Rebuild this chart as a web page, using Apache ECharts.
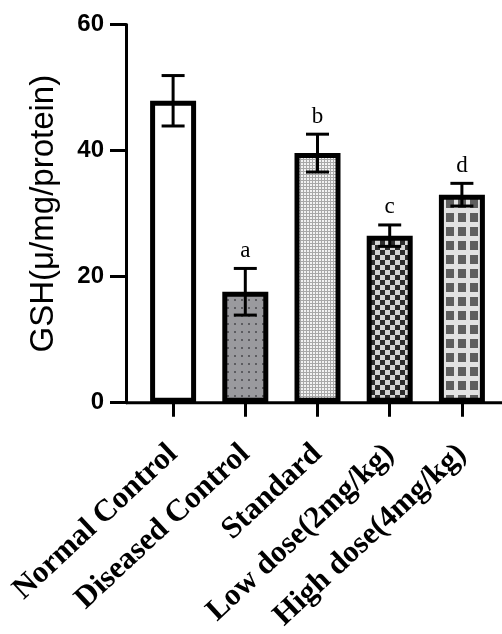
<!DOCTYPE html>
<html>
<head>
<meta charset="utf-8">
<script src="https://cdn.jsdelivr.net/npm/echarts@6/dist/echarts.min.js"></script>
<style>
  html, body { margin: 0; padding: 0; background: #fff; }
  #chart { width: 502px; height: 634px; }
</style>
</head>
<body>
<div id="chart"></div>
<script>
// ---- data ----
const categories = ['Normal Control', 'Diseased Control', 'Standard', 'Low dose(2mg/kg)', 'High dose(4mg/kg)'];
const means = [47.9, 17.6, 39.6, 26.5, 33.0];
const errors = [4.0, 3.7, 3.0, 1.7, 1.8];
const sigLetters = ['', 'a', 'b', 'c', 'd'];
const yMin = 0, yMax = 60, yStep = 20;
const yTitle = 'GSH(\u03bc/mg/protein)';

// ---- fill patterns ----
function pattern(w, h, draw) {
  const c = document.createElement('canvas');
  c.width = w; c.height = h;
  const ctx = c.getContext('2d');
  draw(ctx, w, h);
  return { image: c, repeat: 'repeat' };
}
const fills = [
  '#ffffff',
  pattern(7, 8, (ctx, w, h) => {
    ctx.fillStyle = '#9a9a9e'; ctx.fillRect(0, 0, w, h);
    ctx.fillStyle = '#5c5c60'; ctx.fillRect(3, 3, 2, 2);
  }),
  pattern(3, 3, (ctx, w, h) => {
    ctx.fillStyle = '#a8a8a8'; ctx.fillRect(0, 0, w, h);
    ctx.fillStyle = '#f2f2f2'; ctx.fillRect(1, 1, 2, 2);
  }),
  pattern(10, 10, (ctx, w, h) => {
    ctx.fillStyle = '#d4d4d4'; ctx.fillRect(0, 0, w, h);
    ctx.fillStyle = '#2c2c2c'; ctx.fillRect(0, 0, 5, 5); ctx.fillRect(5, 5, 5, 5);
  }),
  pattern(12, 14, (ctx, w, h) => {
    ctx.fillStyle = '#e2e2e2'; ctx.fillRect(0, 0, w, h);
    ctx.fillStyle = '#5e5e5e'; ctx.fillRect(2, 3, 8, 9);
  })
];

const chart = echarts.init(document.getElementById('chart'));

const option = {
  backgroundColor: '#fff',
  animation: false,
  grid: { left: 137, right: 4, top: 24.5, bottom: 225.7, containLabel: false },
  xAxis: {
    type: 'category',
    data: categories,
    boundaryGap: true,
    axisLine: { show: false },
    axisTick: { show: true, alignWithLabel: true, length: 14, lineStyle: { color: '#000', width: 3 } },
    axisLabel: {
      rotate: 43, margin: 47, interval: 0,
      padding: [12, 0, 0, 0],
      fontFamily: '"Liberation Serif", "Times New Roman", serif',
      fontWeight: 'bold', fontSize: 31, color: '#000'
    },
    splitLine: { show: false }
  },
  yAxis: {
    type: 'value',
    min: yMin, max: yMax, interval: yStep,
    offset: 11,
    name: yTitle,
    nameLocation: 'middle',
    nameGap: 66,
    nameRotate: 90,
    nameTextStyle: { fontFamily: '"Liberation Sans", Arial, sans-serif', fontSize: 33, color: '#000' },
    axisLine: { show: true, lineStyle: { color: '#000', width: 3 } },
    axisTick: { show: true, length: 16, lineStyle: { color: '#000', width: 3 } },
    axisLabel: { margin: 22, fontFamily: '"Liberation Sans", Arial, sans-serif', fontWeight: 'bold', fontSize: 24, color: '#000' },
    splitLine: { show: false }
  },
  series: [
    {
      type: 'bar',
      barWidth: 46,
      data: means.map((v, i) => ({ value: v, itemStyle: { color: fills[i] } })),
      itemStyle: { borderColor: '#000', borderWidth: 5 },
      z: 2
    },
    {
      type: 'custom',
      z: 5,
      data: means.map((v, i) => [i, v, errors[i]]),
      renderItem: function (params, api) {
        const idx = api.value(0);
        const m = api.value(1);
        const e = api.value(2);
        const letter = sigLetters[idx];
        const top = api.coord([idx, m + e]);
        const bot = api.coord([idx, m - e]);
        const half = 11.5;
        const style = { stroke: '#000', lineWidth: 3 };
        const children = [
          { type: 'line', shape: { x1: top[0], y1: top[1], x2: bot[0], y2: bot[1] }, style: style },
          { type: 'line', shape: { x1: top[0] - half, y1: top[1], x2: top[0] + half, y2: top[1] }, style: style },
          { type: 'line', shape: { x1: bot[0] - half, y1: bot[1], x2: bot[0] + half, y2: bot[1] }, style: style }
        ];
        if (letter) {
          children.push({
            type: 'text',
            style: {
              x: top[0], y: top[1] - 6, text: letter,
              textAlign: 'center', textVerticalAlign: 'bottom',
              fontFamily: '"Liberation Serif", "Times New Roman", serif',
              fontSize: 23, fill: '#000'
            }
          });
        }
        return { type: 'group', children: children };
      }
    }
  ]
};
chart.setOption(option);

// baseline (x axis line) from the y axis to the right edge
const p0 = chart.convertToPixel({ gridIndex: 0 }, [0, yMin]);
const yAxisX = chart.getModel().getComponent('grid').coordinateSystem.getRect().x - 11;
chart.setOption({
  graphic: [{
    type: 'line', z: 10,
    shape: { x1: yAxisX, y1: p0[1], x2: 502, y2: p0[1] },
    style: { stroke: '#000', lineWidth: 3 }
  }]
});
</script>
</body>
</html>
